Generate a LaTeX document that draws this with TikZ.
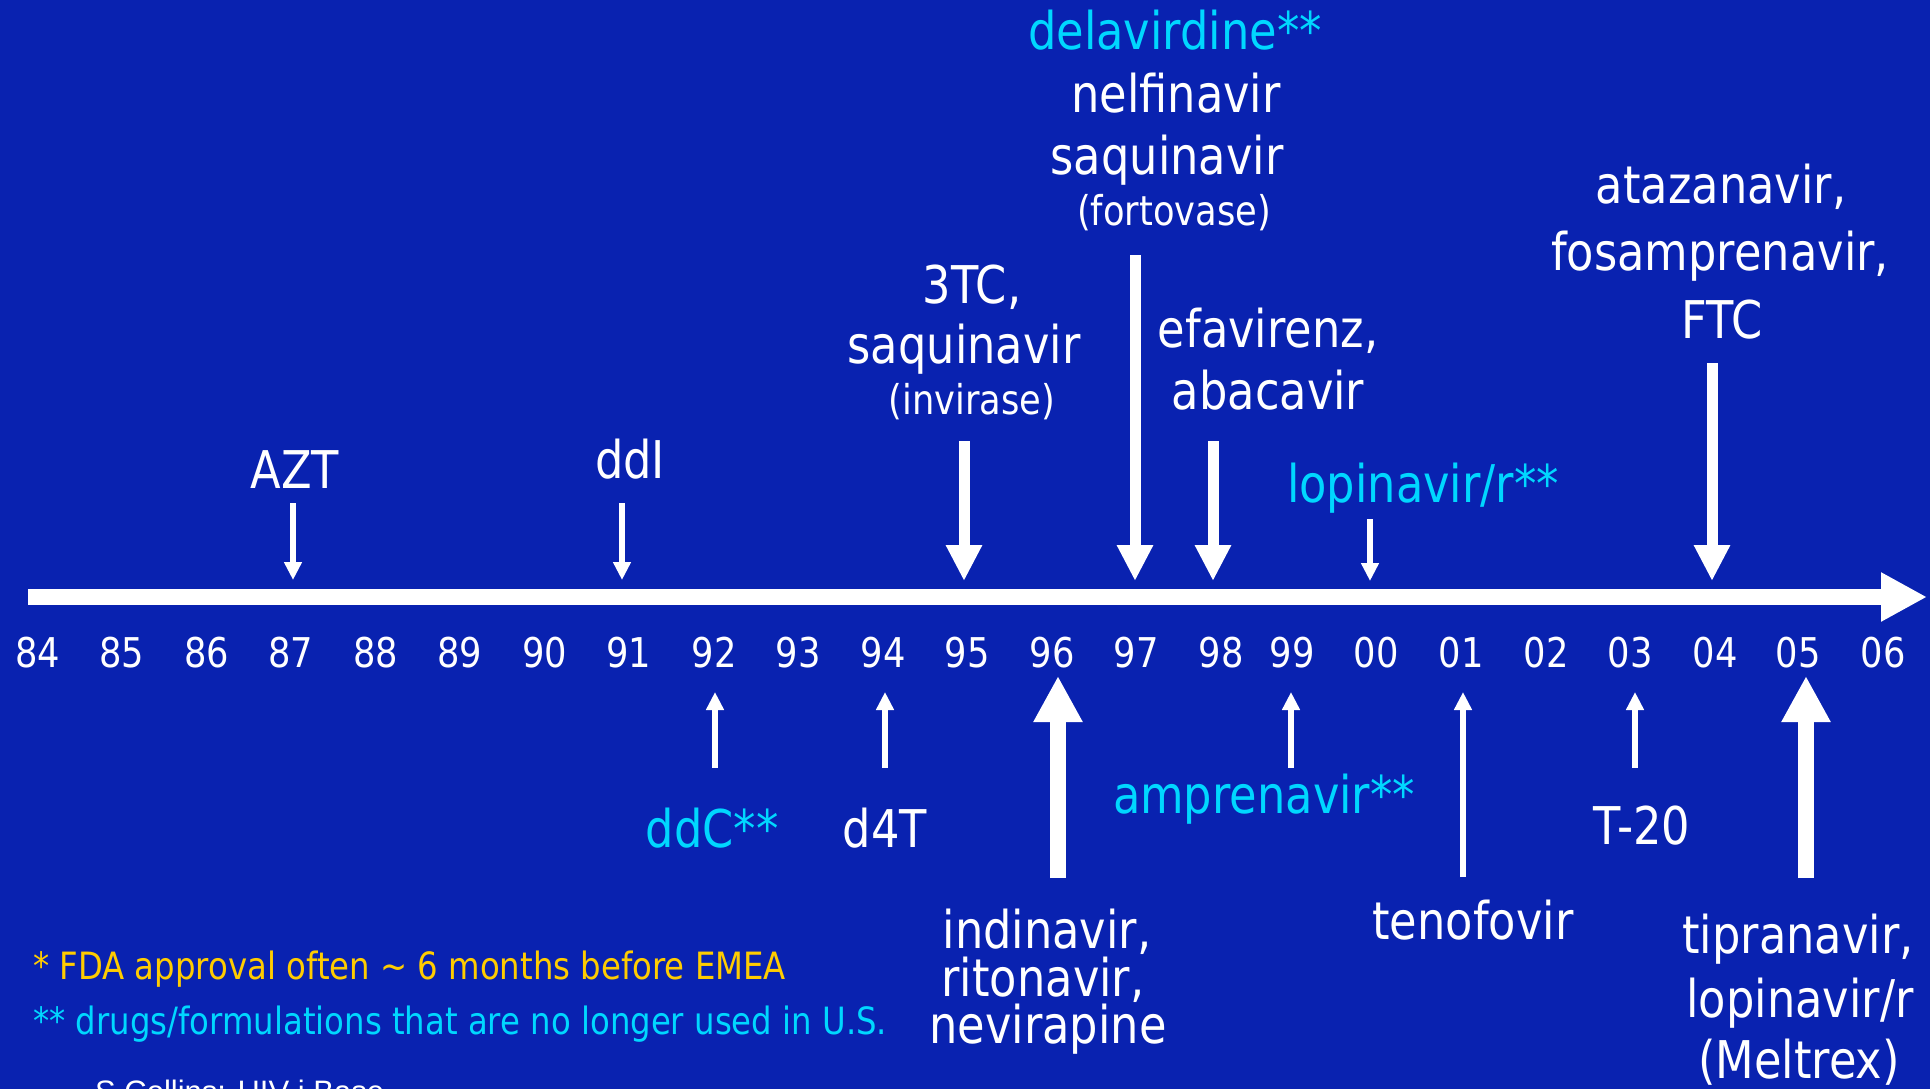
\documentclass[tikz,border=0pt]{standalone}
\usepackage{fontspec}
\setmainfont{DejaVu Sans}[FakeStretch=0.86]
\newfontfamily\footf{Liberation Sans}
\usetikzlibrary{arrows.meta}
\definecolor{bg}{RGB}{9,34,176}
\definecolor{cy}{RGB}{0,215,255}
\definecolor{yl}{RGB}{255,204,0}
\tikzset{
  big/.style={font=\fontsize{52}{52}\selectfont, text=white, inner sep=0pt, anchor=base},
  small/.style={font=\fontsize{41}{41}\selectfont, text=white, inner sep=0pt, anchor=base},
  cyn/.style={text=cy},
  note/.style={font=\fontsize{37.6}{37.6}\selectfont, inner sep=0pt, anchor=base west},
  thinarr/.style={draw=white, line width=6pt, -{Triangle[width=17pt,length=18pt]}},
  medarr/.style={draw=white, line width=11pt, -{Triangle[width=34pt,length=36pt]}},
  bigarr/.style={draw=white, line width=16pt, -{Triangle[width=46pt,length=46pt]}},
}
\begin{document}
\begin{tikzpicture}[x=1pt,y=-1pt]
\fill[bg] (0,0) rectangle (1930,1089);
\useasboundingbox (0,0) rectangle (1930,1089);

% time axis
\coordinate (axL) at (28,597);
\coordinate (axR) at (1927,597);
\draw[bigarr] (axL) -- (axR);

% year labels
\foreach \lab/\x in {84/38,85/122,86/207,87/291,88/376,89/460,90/545,91/629,92/714,93/798,94/883,95/967,96/1052,97/1136,98/1221,99/1292,00/1376,01/1461,02/1546,03/1630,04/1715,05/1798,06/1883}
  \node[small] (y\lab) at (\x,667) {\lab};

% labels above the axis
\node[big] (azt) at (295,488) {AZT};
\node[big] (ddi) at (630,478) {ddI};
\node[big] (tc1) at (972,303) {3TC,};
\node[big] (tc2) at (964,363) {saquinavir};
\node[small] (tc3) at (972,414) {(invirase)};
\node[big,cyn] (d1) at (1175,50) {delavirdine**};
\node[big] (d2) at (1176,113) {nelfinavir};
\node[big] (d3) at (1167,175) {saquinavir};
\node[small] (d4) at (1174,225) {(fortovase)};
\node[big] (e1) at (1268,347) {efavirenz,};
\node[big] (e2) at (1268,409) {abacavir};
\node[big,cyn] (lop) at (1423,502) {lopinavir/r**};
\node[big] (a1) at (1721,203) {atazanavir,};
\node[big] (a2) at (1720,270) {fosamprenavir,};
\node[big] (a3) at (1722,338) {FTC};

% labels below the axis
\node[big,cyn] (ddc) at (712,847) {ddC**};
\node[big] (d4t) at (885,847) {d4T};
\node[big] (i1) at (1047,948) {indinavir,};
\node[big] (i2) at (1043,996) {ritonavir,};
\node[big] (i3) at (1048,1043) {nevirapine};
\node[big,cyn] (amp) at (1264,813) {amprenavir**};
\node[big] (ten) at (1473,939) {tenofovir};
\node[big] (t20) at (1642,844) {T-20};
\node[big] (t1) at (1798,953) {tipranavir,};
\node[big] (t2) at (1800,1017) {lopinavir/r};
\node[big] (t3) at (1799,1078) {(Meltrex)};

% arrow end points
\coordinate (pAZTa) at (293,503);  \coordinate (pAZTb) at (293,580);
\coordinate (pDDIa) at (622,503);  \coordinate (pDDIb) at (622,580);
\coordinate (p95a) at (964,441);   \coordinate (p95b) at (964,581);
\coordinate (p97a) at (1135,255);  \coordinate (p97b) at (1135,581);
\coordinate (p98a) at (1213,441);  \coordinate (p98b) at (1213,581);
\coordinate (p00a) at (1370,519);  \coordinate (p00b) at (1370,581);
\coordinate (p04a) at (1712,363);  \coordinate (p04b) at (1712,581);
\coordinate (p92a) at (715,768);   \coordinate (p92b) at (715,692);
\coordinate (p94a) at (885,768);   \coordinate (p94b) at (885,692);
\coordinate (p96a) at (1058,878);  \coordinate (p96b) at (1058,676);
\coordinate (p99a) at (1291,768);  \coordinate (p99b) at (1291,692);
\coordinate (p01a) at (1463,877);  \coordinate (p01b) at (1463,692);
\coordinate (p03a) at (1635,768);  \coordinate (p03b) at (1635,692);
\coordinate (p05a) at (1806,878);  \coordinate (p05b) at (1806,676);

\draw[thinarr] (pAZTa) -- (pAZTb);
\draw[thinarr] (pDDIa) -- (pDDIb);
\draw[medarr] (p95a) -- (p95b);
\draw[medarr] (p97a) -- (p97b);
\draw[medarr] (p98a) -- (p98b);
\draw[thinarr] (p00a) -- (p00b);
\draw[medarr] (p04a) -- (p04b);
\draw[thinarr] (p92a) -- (p92b);
\draw[thinarr] (p94a) -- (p94b);
\draw[bigarr] (p96a) -- (p96b);
\draw[thinarr] (p99a) -- (p99b);
\draw[thinarr] (p01a) -- (p01b);
\draw[thinarr] (p03a) -- (p03b);
\draw[bigarr] (p05a) -- (p05b);

% footnotes
\node[note,text=yl] (n1) at (33,979) {* FDA approval often \textasciitilde{} 6 months before EMEA};
\node[note,text=cy] (n2) at (33,1034) {** drugs/formulations that are no longer used in U.S.};
\begin{scope}
  \clip (0,0) rectangle (1930,1089);
  \node[inner sep=0pt, anchor=base west, text=white, font=\footf\fontsize{31}{31}\selectfont] (src) at (95,1102) {S Collins: HIV i Base};
\end{scope}
\end{tikzpicture}
\end{document}
